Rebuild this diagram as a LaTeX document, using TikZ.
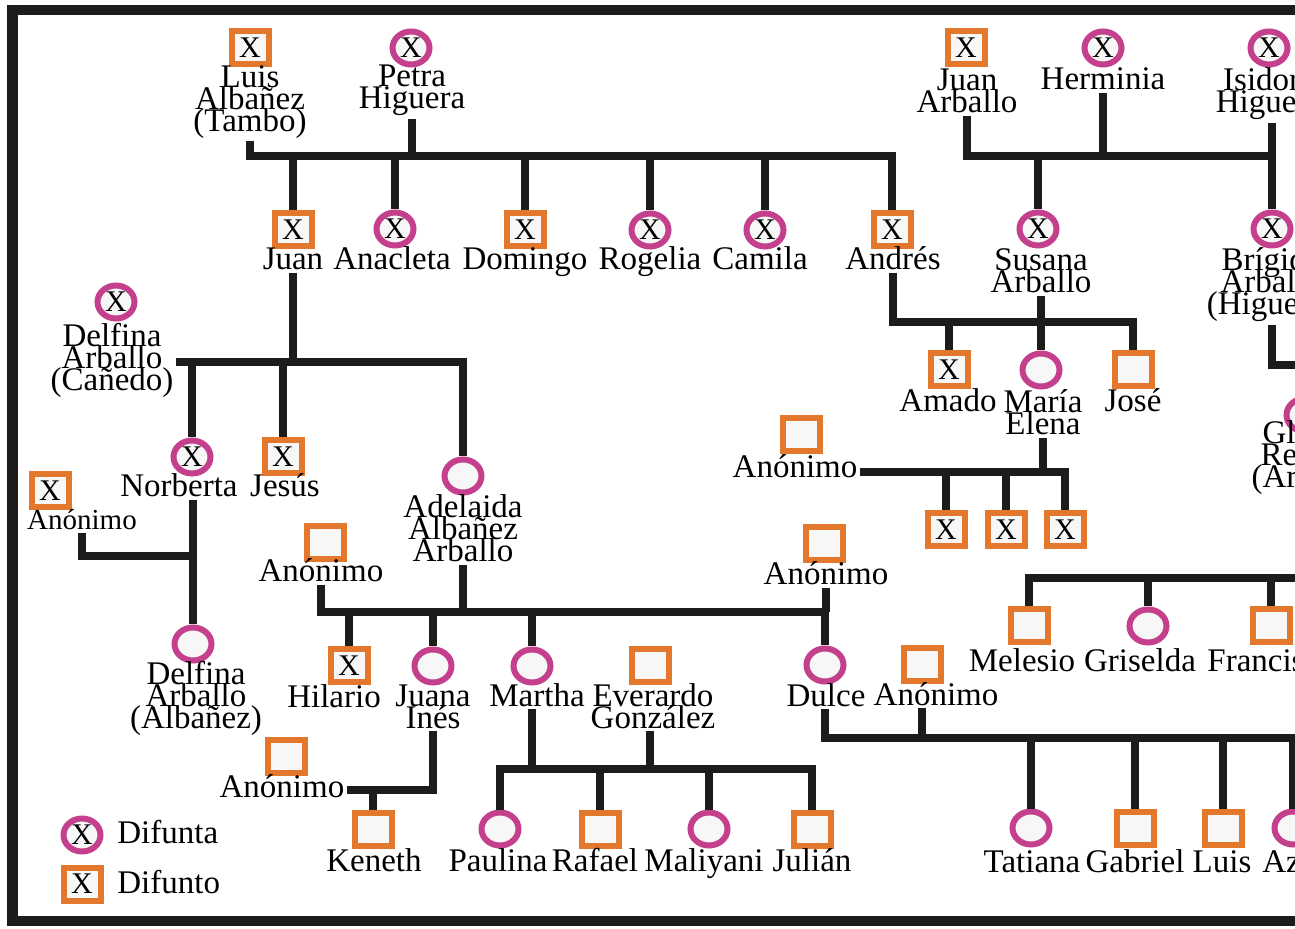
\documentclass[tikz,border=0pt]{standalone}
\usepackage{fontspec}
\setmainfont{Liberation Serif}
\usetikzlibrary{shapes.geometric}
\definecolor{naranja}{RGB}{227,119,44}
\definecolor{rosa}{RGB}{196,64,140}
\definecolor{linea}{RGB}{30,27,27}
\lineskiplimit=-100pt

\begin{document}
\begin{tikzpicture}[x=0.5pt,y=-0.5pt,
	varon/.style={rectangle,draw=naranja,fill=black!3,line width=3pt,minimum width=18.5pt,minimum height=16.5pt,inner sep=0pt,font=\fontsize{15}{15}\selectfont},
	mujer/.style={ellipse,draw=rosa,fill=black!3,line width=3pt,minimum width=18.5pt,minimum height=16.5pt,inner sep=0pt,font=\fontsize{15}{15}\selectfont},
	nombre/.style={align=center,inner sep=1pt,anchor=base,font=\fontsize{16.5}{11}\selectfont},
	rel/.style={draw=linea,line width=4.25pt}]
	
	% El marco
	\useasboundingbox (0,0) rectangle (1295,929);
	\clip (0,0) rectangle (1295,929);
	\fill [white] (0,0) rectangle (1295,929);
	\draw [draw=linea,line width=5.25pt] (12.5,10) rectangle (1330,921);
	
	% Luis Albañez y Petra Higuera
	\node [varon] (luis) at (250,48) {X};
	\node [nombre] (luisN) at (250,132) {Luis\\Albañez\\(Tambo)};
	\node [mujer] (petra) at (411,48) {X};
	\node [nombre] (petraN) at (412,109) {Petra\\Higuera};
	
	% Sus hijos
	\node [varon] (juan) at (293,230) {X};
	\node [mujer] (anacleta) at (395,229) {X};
	\node [varon] (domingo) at (525,230) {X};
	\node [mujer] (rogelia) at (650,230) {X};
	\node [mujer] (camila) at (765,230) {X};
	\node [varon] (andres) at (892,230) {X};
	\node [nombre] (juanN) at (293,270) {Juan};
	\node [nombre] (anacletaN) at (392,270) {Anacleta};
	\node [nombre] (domingoN) at (525,270) {Domingo};
	\node [nombre] (rogeliaN) at (650,270) {Rogelia};
	\node [nombre] (camilaN) at (760,270) {Camila};
	\node [nombre] (andresN) at (893,270) {Andrés};
	
	% Juan Arballo, Herminia e Isidora Higuera
	\node [varon] (jarb) at (966,48) {X};
	\node [nombre] (jarbN) at (967,113) {Juan\\Arballo};
	\node [mujer] (herminia) at (1103,48) {X};
	\node [nombre] (hermN) at (1103,90) {Herminia};
	\node [mujer] (isidora) at (1269,48) {X};
	\node [nombre] (isidN) at (1269,113) {Isidora\\Higuera};
	\node [mujer] (susana) at (1038,229) {X};
	\node [nombre] (susanaN) at (1041,293) {Susana\\Arballo};
	\node [mujer] (brigida) at (1272,229) {X};
	\node [nombre] (brigN) at (1271,315) {Brígida\\Arballo\\(Higuera)};
	\node [mujer] (gl) at (1305,415) {};
	\node [nombre] (glN) at (1279,488) {Gl\\Re\\(Arí};
	
	% Andrés y Susana
	\node [varon] (amado) at (949,370) {X};
	\node [mujer] (maria) at (1041,370) {};
	\node [varon] (jose) at (1133,370) {};
	\node [nombre] (amadoN) at (948,412) {Amado};
	\node [nombre] (mariaN) at (1043,435) {María\\Elena};
	\node [nombre] (joseN) at (1133,412) {José};
	\node [varon] (anon4) at (801,435) {};
	\node [nombre] (anon4N) at (795,478) {Anónimo};
	\node [varon] (hijo1) at (946,530) {X};
	\node [varon] (hijo2) at (1006,530) {X};
	\node [varon] (hijo3) at (1065,530) {X};
	
	% Juan y Delfina Arballo (Cañedo)
	\node [mujer] (delfc) at (116,302) {X};
	\node [nombre] (delfcN) at (112,391) {Delfina\\Arballo\\(Cañedo)};
	\node [mujer] (norberta) at (192,457) {X};
	\node [nombre] (norbN) at (179,497) {Norberta};
	\node [varon] (jesus) at (283,457) {X};
	\node [nombre] (jesusN) at (285,497) {Jesús};
	\node [mujer] (adelaida) at (463,476) {};
	\node [nombre] (adelN) at (463,562) {Adelaida\\Albañez\\Arballo};
	\node [varon] (anonx) at (50,491) {X};
	\node [nombre,font=\fontsize{14.5}{11}\selectfont] (anonxN) at (82,530) {Anónimo};
	\node [mujer] (delfa) at (193,644) {};
	\node [nombre] (delfaN) at (196,728) {Delfina\\Arballo\\(Albañez)};
	
	% Adelaida y los Anónimos
	\node [varon] (anon1) at (325,543) {};
	\node [nombre] (anon1N) at (321,582) {Anónimo};
	\node [varon] (anon5) at (824,544) {};
	\node [nombre] (anon5N) at (826,585) {Anónimo};
	\node [varon] (hilario) at (349,666) {X};
	\node [nombre] (hilarioN) at (334,707) {Hilario};
	\node [mujer] (juana) at (433,666) {};
	\node [nombre] (juanaN) at (433,728) {Juana\\Inés};
	\node [mujer] (martha) at (532,666) {};
	\node [nombre] (marthaN) at (537,706) {Martha};
	\node [varon] (everardo) at (650,666) {};
	\node [nombre] (evN) at (653,728) {Everardo\\González};
	\node [mujer] (dulce) at (825,665) {};
	\node [nombre] (dulceN) at (826,706) {Dulce};
	\node [varon] (anon3) at (922,665) {};
	\node [nombre] (anon3N) at (936,705) {Anónimo};
	
	% Nietos
	\node [varon] (anon2) at (286,756) {};
	\node [nombre] (anon2N) at (282,797) {Anónimo};
	\node [varon] (keneth) at (373,829) {};
	\node [nombre] (kenethN) at (374,871) {Keneth};
	\node [mujer] (paulina) at (500,829) {};
	\node [nombre] (paulinaN) at (498,871) {Paulina};
	\node [varon] (rafael) at (600,829) {};
	\node [nombre] (rafaelN) at (595,871) {Rafael};
	\node [mujer] (maliyani) at (709,829) {};
	\node [nombre] (maliyaniN) at (704,871) {Maliyani};
	\node [varon] (julian) at (812,829) {};
	\node [nombre] (julianN) at (812,871) {Julián};
	\node [mujer] (tatiana) at (1031,828) {};
	\node [nombre] (tatianaN) at (1032,872) {Tatiana};
	\node [varon] (gabriel) at (1135,828) {};
	\node [nombre] (gabrielN) at (1135,872) {Gabriel};
	\node [varon] (luisb) at (1223,828) {};
	\node [nombre] (luisbN) at (1222,872) {Luis};
	\node [mujer] (az) at (1293,828) {};
	\node [nombre,anchor=base west] (azN) at (1260,872) {Az};
	
	% Melesio, Griselda y Francis
	\node [varon] (melesio) at (1029,626) {};
	\node [nombre] (melesioN) at (1022,672) {Melesio};
	\node [mujer] (griselda) at (1148,626) {};
	\node [nombre] (griseldaN) at (1140,672) {Griselda};
	\node [varon] (francis) at (1271,626) {};
	\node [nombre,anchor=base west] (francisN) at (1205,672) {Francis};
	
	% Leyenda
	\node [mujer] (leyf) at (82,835) {X};
	\node [nombre,anchor=base west] (leyfN) at (115,843) {Difunta};
	\node [varon] (leym) at (82,884) {X};
	\node [nombre,anchor=base west] (leymN) at (115,893) {Difunto};
	
	% Las líneas de parentesco
	\coordinate (m1) at (0,156);
	\coordinate (m2) at (0,156);
	\coordinate (m3) at (0,362);
	\coordinate (mA) at (0,322);
	\coordinate (mM) at (0,472);
	\coordinate (m4) at (0,556);
	\coordinate (m5) at (0,612);
	\coordinate (m6) at (0,790);
	\coordinate (m7) at (0,769);
	\coordinate (e8) at (1330,738);
	\coordinate (e9) at (1330,578);
	\coordinate (e10) at (1330,365);
	
	\draw [rel] (luisN.south) |- (andres.north |- m1) -- (andres.north);
	\draw [rel] (petraN.south) -- (petraN.south |- m1);
	\foreach \h in {juan,anacleta,domingo,rogelia,camila}
		\draw [rel] (\h.north |- m1) -- (\h.north);
	
	\draw [rel] (jarbN.south) |- (brigida.north |- m2);
	\draw [rel] (brigida.north |- isidN.south) -- (brigida.north);
	\draw [rel] (hermN.south) -- (hermN.south |- m2);
	\draw [rel] (susana.north |- m2) -- (susana.north);
	\draw [rel] (brigida |- brigN.south) |- (e10);
	
	\draw [rel] (andresN.south) |- (jose.north |- mA) -- (jose.north);
	\draw [rel] (susanaN.south) -- (susanaN.south |- mA);
	\foreach \h in {amado,maria}
		\draw [rel] (\h.north |- mA) -- (\h.north);
	
	\draw [rel] (anon4N.east |- mM) -| (hijo3.north);
	\draw [rel] (mariaN.south) -- (mariaN.south |- mM);
	\foreach \h in {hijo1,hijo2}
		\draw [rel] (\h.north |- mM) -- (\h.north);
	
	\draw [rel] (juanN.south) -- (juanN.south |- m3);
	\draw [rel] (delfcN.east |- m3) -| (adelaida.north);
	\foreach \h in {norberta,jesus}
		\draw [rel] (\h.north |- m3) -- (\h.north);
	
	\draw [rel] (delfa.north |- norbN.south) -- (delfa.north);
	\draw [rel] (anonxN.south) |- (delfa.north |- m4);
	
	\draw [rel] (anon1N.south) |- (dulce.north |- m5) -- (dulce.north);
	\draw [rel] (adelN.south) -- (adelN.south |- m5);
	\draw [rel] (anon5N.south) -- (anon5N.south |- m5);
	\foreach \h in {hilario,juana,martha}
		\draw [rel] (\h.north |- m5) -- (\h.north);
	
	\draw [rel] (juanaN.south) |- (anon2N.east |- m6);
	\draw [rel] (keneth.north |- m6) -- (keneth.north);
	
	\draw [rel] (paulina.north) |- (julian.north |- m7) -- (julian.north);
	\draw [rel] (martha |- marthaN.south) -- (martha |- m7);
	\draw [rel] (everardo |- evN.south) -- (everardo |- m7);
	\foreach \h in {rafael,maliyani}
		\draw [rel] (\h.north |- m7) -- (\h.north);
	
	\draw [rel] (dulce |- dulceN.south) |- (e8);
	\draw [rel] (anon3 |- anon3N.south) -- (anon3 |- e8);
	\foreach \h in {tatiana,gabriel,luisb,az}
		\draw [rel] (\h.north |- e8) -- (\h.north);
	
	\draw [rel] (melesio.north) |- (e9);
	\foreach \h in {griselda,francis}
		\draw [rel] (\h.north |- e9) -- (\h.north);
	
\end{tikzpicture}
\end{document}
